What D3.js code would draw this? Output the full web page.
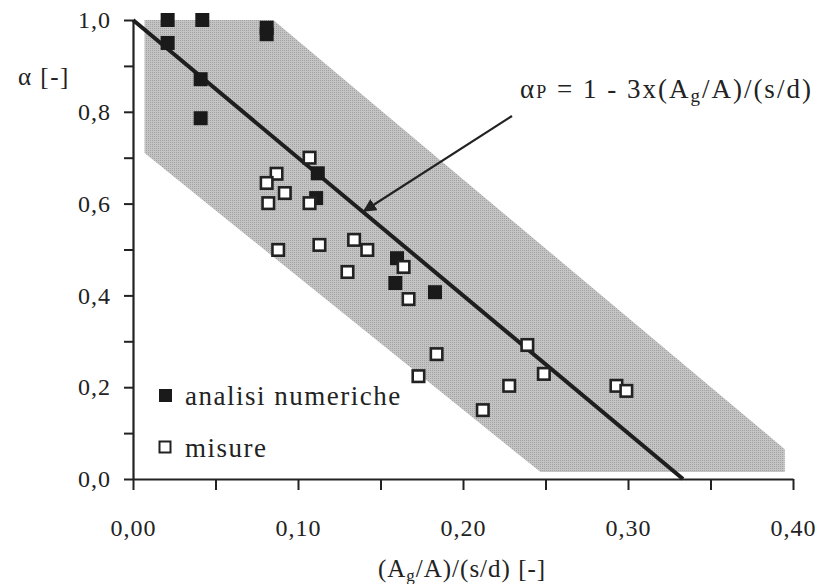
<!DOCTYPE html>
<html>
<head>
<meta charset="utf-8">
<script src="https://cdn.jsdelivr.net/npm/d3@7"></script>
<style>
  body { margin: 0; background: #fff; }
  svg text { font-family: "Liberation Serif", "Times New Roman", Times, serif; fill: #222; }
</style>
</head>
<body>
<div id="chart"></div>
<script>
// analisi numeriche (filled squares)
var numX = [0.021, 0.042, 0.081, 0.081, 0.021, 0.041, 0.041, 0.112, 0.111, 0.160, 0.159, 0.183];
var numY = [1.000, 1.000, 0.983, 0.969, 0.950, 0.871, 0.786, 0.666, 0.612, 0.481, 0.427, 0.407];

// misure (open squares)
var misX = [0.107, 0.087, 0.081, 0.092, 0.082, 0.107, 0.088, 0.113, 0.134, 0.142, 0.130,
            0.164, 0.167, 0.184, 0.173, 0.239, 0.249, 0.228, 0.212, 0.293, 0.299];
var misY = [0.700, 0.665, 0.645, 0.623, 0.601, 0.601, 0.499, 0.510, 0.521, 0.499, 0.451,
            0.462, 0.392, 0.272, 0.224, 0.292, 0.229, 0.203, 0.150, 0.203, 0.192];

// shaded band outline
var bandX = [0.007, 0.085, 0.395, 0.395, 0.247, 0.007];
var bandY = [1.000, 1.000, 0.065, 0.015, 0.015, 0.710];

// design line alpha_P = 1 - 3x
var lineX = [0, 1 / 3];
var lineY = [1, 0];

var xTicks = [0, 0.05, 0.10, 0.15, 0.20, 0.25, 0.30, 0.35, 0.40];
var yTicks = [0, 0.1, 0.2, 0.3, 0.4, 0.5, 0.6, 0.7, 0.8, 0.9, 1.0];

function init() {
    var w = 836;
    var h = 584;
    var serif = '"Liberation Serif", "Times New Roman", serif';

    var x = d3.scaleLinear().domain([0, 0.4]).range([133, 793]);
    var y = d3.scaleLinear().domain([0, 1]).range([479, 20]);

    var svg = d3.select("#chart")
        .append("svg")
        .attr("width", w)
        .attr("height", h);

    // halftone-like fill for the band
    var pat = svg.append("defs").append("pattern")
        .attr("id", "dots")
        .attr("width", 2).attr("height", 2)
        .attr("patternUnits", "userSpaceOnUse");
    pat.append("rect").attr("width", 2).attr("height", 2).attr("fill", "#c4c4c4");
    pat.append("rect").attr("width", 1).attr("height", 1).attr("fill", "#a2a2a2");

    var band = bandX.map(function (d, i) { return [x(d), y(bandY[i])]; });
    svg.append("path")
        .attr("d", d3.line()(band) + "Z")
        .attr("fill", "url(#dots)");

    // axes
    var xAxis = d3.axisBottom(x)
        .tickValues(xTicks)
        .tickSize(11)
        .tickSizeOuter(0)
        .tickFormat(function (d) {
            return Math.round(d * 100) % 10 === 0 ? d3.format(".2f")(d).replace(".", ",") : "";
        });
    var gx = svg.append("g").attr("transform", "translate(0," + y(0) + ")").call(xAxis);

    var yAxis = d3.axisLeft(y)
        .tickValues(yTicks)
        .tickSize(9)
        .tickSizeOuter(0)
        .tickFormat(function (d) {
            return Math.round(d * 10) % 2 === 0 ? d3.format(".1f")(d).replace(".", ",") : "";
        });
    var gy = svg.append("g").attr("transform", "translate(" + x(0) + ",0)").call(yAxis);

    [gx, gy].forEach(function (g) {
        g.attr("font-family", serif);
        g.select(".domain").attr("stroke", "#222").attr("stroke-width", 2.2);
        g.selectAll(".tick line").attr("stroke", "#222").attr("stroke-width", 2);
        g.selectAll(".tick text")
            .style("font-family", serif)
            .style("font-size", "24px")
            .style("letter-spacing", "1px")
            .attr("fill", "#222");
    });
    gx.selectAll(".tick text").attr("y", 40);
    gy.selectAll(".tick text").attr("x", -22);

    // design line
    svg.append("line")
        .attr("x1", x(lineX[0])).attr("y1", y(lineY[0]))
        .attr("x2", x(lineX[1])).attr("y2", y(lineY[1]))
        .attr("stroke", "#1e1e1e")
        .attr("stroke-width", 4);

    // arrow to the line
    svg.append("defs").append("marker")
        .attr("id", "head")
        .attr("viewBox", "0 0 10 10")
        .attr("refX", 9).attr("refY", 5)
        .attr("markerWidth", 6).attr("markerHeight", 6)
        .attr("orient", "auto")
        .append("path").attr("d", "M0,0 L10,5 L0,10 Z").attr("fill", "#222");
    svg.append("line")
        .attr("x1", 512).attr("y1", 116)
        .attr("x2", 364).attr("y2", 211)
        .attr("stroke", "#222")
        .attr("stroke-width", 2.2)
        .attr("marker-end", "url(#head)");

    var sz = 14;
    // filled squares
    svg.selectAll("rect.num")
        .data(numX)
        .enter()
        .append("rect")
        .attr("class", "num")
        .attr("x", function (d) { return x(d) - sz / 2; })
        .attr("y", function (d, i) { return y(numY[i]) - sz / 2; })
        .attr("width", sz).attr("height", sz)
        .attr("fill", "#1a1a1a");

    // open squares
    svg.selectAll("rect.mis")
        .data(misX)
        .enter()
        .append("rect")
        .attr("class", "mis")
        .attr("x", function (d) { return x(d) - (sz - 2.5) / 2; })
        .attr("y", function (d, i) { return y(misY[i]) - (sz - 2.5) / 2; })
        .attr("width", sz - 2.5).attr("height", sz - 2.5)
        .attr("fill", "#fff")
        .attr("stroke", "#222")
        .attr("stroke-width", 2.6);

    // legend
    svg.append("rect").attr("x", 159).attr("y", 389).attr("width", 13).attr("height", 13).attr("fill", "#1a1a1a");
    svg.append("rect").attr("x", 159.5).attr("y", 441.5).attr("width", 11).attr("height", 11)
        .attr("fill", "#fff").attr("stroke", "#222").attr("stroke-width", 2);
    svg.append("text").attr("x", 185).attr("y", 405)
        .style("font-size", "27px").style("letter-spacing", "1.5px")
        .text("analisi numeriche");
    svg.append("text").attr("x", 185).attr("y", 457)
        .style("font-size", "27px").style("letter-spacing", "1.5px")
        .text("misure");

    // axis labels
    svg.append("text").attr("x", 18).attr("y", 85)
        .style("font-size", "25px").style("letter-spacing", "1.5px")
        .text("α [-]");

    var xl = svg.append("text").attr("x", 462).attr("y", 577)
        .attr("text-anchor", "middle").style("font-size", "25px").style("letter-spacing", "1px");
    xl.append("tspan").text("(A");
    xl.append("tspan").attr("dy", 4).style("font-size", "17px").text("g");
    xl.append("tspan").attr("dy", -4).text("/A)/(s/d) [-]");

    // formula annotation
    var f = svg.append("text").attr("x", 520).attr("y", 98)
        .style("font-size", "27px").style("letter-spacing", "2px");
    f.append("tspan").text("α");
    f.append("tspan").style("font-size", "18px").text("P");
    f.append("tspan").text(" = 1 - 3x(A");
    f.append("tspan").attr("dy", 4).style("font-size", "19px").text("g");
    f.append("tspan").attr("dy", -4).text("/A)/(s/d)");
}

window.onload = init;
</script>
</body>
</html>
